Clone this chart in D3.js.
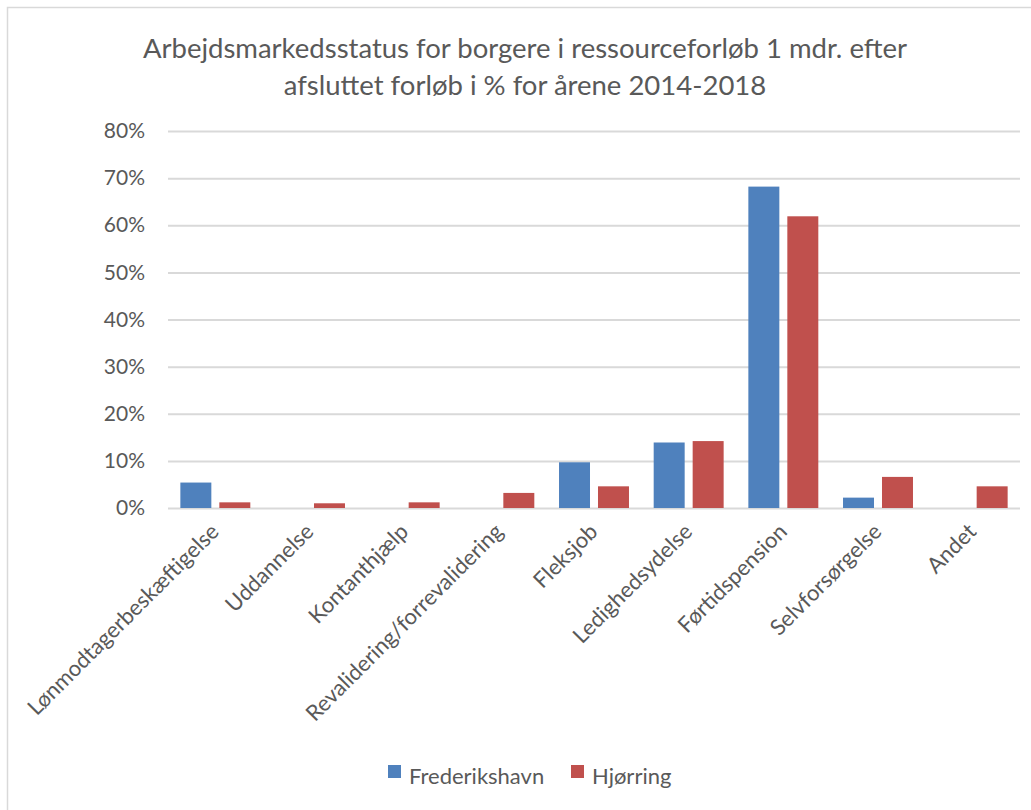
<!DOCTYPE html>
<html><head><meta charset="utf-8">
<script src="https://cdn.jsdelivr.net/npm/d3@7"></script>
<style>body{margin:0;background:#fff}svg{display:block}text{font-family:Lato,"Open Sans",sans-serif;fill:#595959}</style>
</head><body><svg id="c" width="1031" height="810"></svg>
<script>
const categories = ["Lønmodtagerbeskæftigelse","Uddannelse","Kontanthjælp","Revalidering/forrevalidering","Fleksjob","Ledighedsydelse","Førtidspension","Selvforsørgelse","Andet"];
const seriesNames = ["Frederikshavn","Hjørring"];
const frederikshavn = [5.4, 0, 0, 0, 9.7, 13.9, 68.2, 2.2, 0];
const hjorring = [1.2, 1.0, 1.2, 3.2, 4.6, 14.2, 61.9, 6.6, 4.6];
const yTicks = [0,10,20,30,40,50,60,70,80];
const titleLines = ["Arbejdsmarkedsstatus for borgere i ressourceforløb 1 mdr. efter","afsluttet forløb i % for årene 2014-2018"];
const colors = ["#4f81bd","#c0504d"];

const svg = d3.select("#c");
svg.append("rect").attr("x",7.5).attr("y",7.5).attr("width",1040).attr("height",820)
  .attr("fill","none").attr("stroke","#d9d9d9").attr("stroke-width",1.5);

const m = {l:168, r:1020, t:131, b:508};
const x = d3.scaleBand().domain(categories).range([m.l,m.r]).paddingInner(0).paddingOuter(0);
const xs = d3.scaleBand().domain(seriesNames).range([0,x.bandwidth()]).paddingInner(0.205).paddingOuter(0.317);
const y = d3.scaleLinear().domain([0,80]).range([m.b,m.t]);

// title
const tl = [58, 95];
titleLines.forEach((t,i)=>{
  svg.append("text").attr("x",525).attr("y",tl[i]).attr("text-anchor","middle")
    .attr("font-size",27.5).text(t);
});

// grid
const yAxis = d3.axisLeft(y).tickValues(yTicks).tickSize(-(m.r-m.l)).tickFormat(d=>d+"%").tickPadding(23);
const ga = svg.append("g").attr("transform",`translate(${m.l},0)`).call(yAxis);
ga.select(".domain").remove();
ga.selectAll(".tick line").attr("stroke","#d9d9d9").attr("stroke-width",2);
ga.selectAll(".tick text").attr("font-size",21).attr("fill","#595959").style("font-family","Lato,'Open Sans',sans-serif");

// bars
const data = categories.map((c,i)=>({c, vals:[frederikshavn[i],hjorring[i]]}));
const g = svg.append("g");
data.forEach(d=>{
  d.vals.forEach((v,j)=>{
    if(v<=0) return;
    g.append("rect").attr("x",x(d.c)+xs(seriesNames[j])).attr("width",xs.bandwidth())
      .attr("y",y(v)).attr("height",y(0)-y(v)).attr("fill",colors[j]);
  });
});

// x labels
const xAxis = d3.axisBottom(x).tickSize(0).tickPadding(0);
const gx = svg.append("g").attr("transform",`translate(0,${m.b})`).call(xAxis);
gx.select(".domain").remove();
gx.selectAll(".tick text").attr("font-size",22).attr("fill","#595959")
  .style("font-family","Lato,'Open Sans',sans-serif")
  .attr("text-anchor","end").attr("dy",0)
  .attr("transform","translate(5,25) rotate(-45)");

// legend
const lx = [388, 571];
seriesNames.forEach((s,j)=>{
  svg.append("rect").attr("x",lx[j]).attr("y",765).attr("width",13).attr("height",13).attr("fill",colors[j]);
  svg.append("text").attr("x",lx[j]+21).attr("y",784).attr("font-size",22).text(s);
});
</script></body></html>
